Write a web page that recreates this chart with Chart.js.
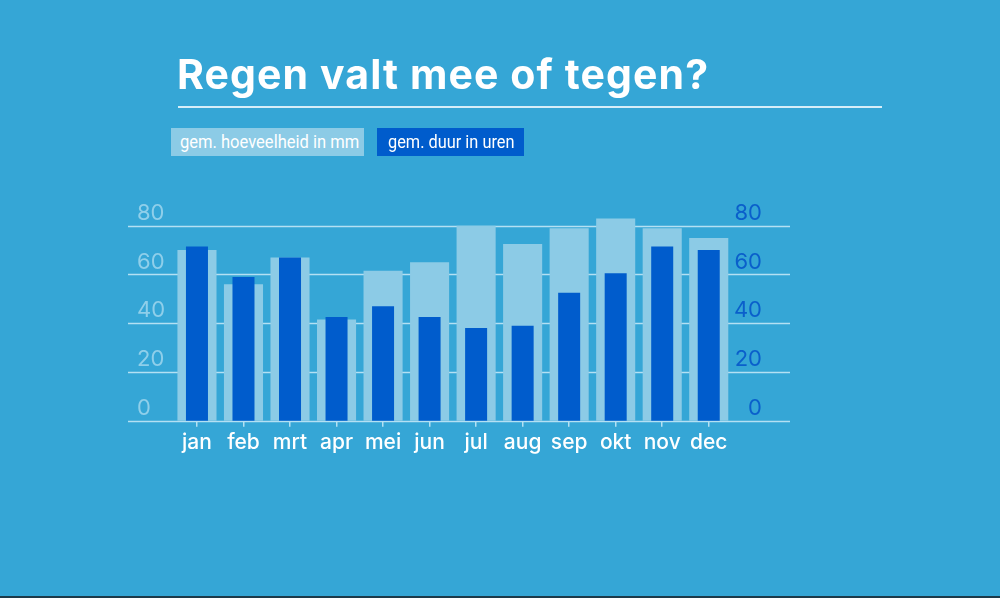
<!DOCTYPE html>
<html>
<head>
<meta charset="utf-8">
<script src="https://cdn.jsdelivr.net/npm/chart.js@4"></script>
<style>
    body { margin: 0; background: #35a6d6; }
    #wrap { position: relative; width: 1000px; height: 598px; background: #35a6d6; overflow: hidden; }
    #wrap canvas { position: absolute; left: 0; top: 0; }
    h1 {
        position: absolute; left: 177px; top: 49px; margin: 0;
        font-family: Inter, sans-serif; font-weight: 700; font-size: 41px;
        color: #fff; letter-spacing: 1.1px; white-space: nowrap;
    }
    .rule { position: absolute; left: 178px; top: 106px; width: 704px; height: 1.5px; background: #d6eef9; }
    .key {
        position: absolute; top: 128px; height: 28px; line-height: 28px; white-space: nowrap;
        font-family: Roboto, sans-serif; font-size: 19px; color: #fff; box-sizing: border-box;
    }
    .key span { display: inline-block; transform-origin: left center; }
    #k1 { left: 171px; width: 193px; background: #8ccbe6; padding-left: 9px; }
    #k1 span { transform: scaleX(0.87); }
    #k2 { left: 377px; width: 147px; background: #005ccc; padding-left: 11px; }
    #k2 span { transform: scaleX(0.86); }
    .edge { position: absolute; left: 0; bottom: 0; width: 1000px; height: 2px; background: #1c3a4a; }
</style>
</head>
<body>
<div id="wrap">
    <canvas id="rainChart" width="1000" height="598"></canvas>
    <h1>Regen valt mee of tegen?</h1>
    <div class="rule"></div>
    <div class="key" id="k1"><span>gem. hoeveelheid in mm</span></div>
    <div class="key" id="k2"><span>gem. duur in uren</span></div>
    <div class="edge"></div>
</div>
<script>
const months = ['jan', 'feb', 'mrt', 'apr', 'mei', 'jun', 'jul', 'aug', 'sep', 'okt', 'nov', 'dec'];
const rainMm = [70, 56, 67, 41.5, 61.5, 65, 80, 72.5, 79, 83, 79, 75];
const rainHours = [71.5, 59, 67, 42.5, 47, 42.5, 38, 39, 52.5, 60.5, 71.5, 70];
const axisTicks = [0, 20, 40, 60, 80];

const lightBlue = '#8ccbe6';
const darkBlue = '#005ccc';
const lineColor = '#b4e0f3';

// horizontal lines run wider than the bars, so draw them from the y scale
const wideGrid = {
    id: 'wideGrid',
    beforeDatasetsDraw(chart) {
        const ctx = chart.ctx;
        const y = chart.scales.yMm;
        ctx.save();
        ctx.strokeStyle = lineColor;
        ctx.lineWidth = 1.5;
        y.ticks.forEach(t => {
            const py = Math.round(y.getPixelForValue(t.value)) + 0.5;
            ctx.beginPath();
            ctx.moveTo(128, py);
            ctx.lineTo(790, py);
            ctx.stroke();
        });
        ctx.restore();
    }
};

const ctx = document.getElementById('rainChart').getContext('2d');
new Chart(ctx, {
    type: 'bar',
    data: {
        labels: months,
        datasets: [{
            label: 'gem. duur in uren',
            data: rainHours,
            yAxisID: 'yUur',
            backgroundColor: darkBlue,
            barPercentage: 0.473,
            categoryPercentage: 1,
            grouped: false,
            order: 0,
            clip: false
        }, {
            label: 'gem. hoeveelheid in mm',
            data: rainMm,
            yAxisID: 'yMm',
            backgroundColor: lightBlue,
            barPercentage: 0.84,
            categoryPercentage: 1,
            grouped: false,
            order: 1,
            clip: false
        }]
    },
    options: {
        responsive: false,
        animation: false,
        layout: { padding: { left: 137, right: 238, top: 225.7, bottom: 137.3 } },
        scales: {
            x: {
                grid: { drawOnChartArea: false, offset: false, color: lineColor, lineWidth: 1.5, tickLength: 6 },
                border: { display: false },
                ticks: { color: '#ffffff', padding: 3, font: { family: 'Inter', size: 21, weight: '500' } },
                afterFit: function(scale) { scale.height = 40; }
            },
            yMm: {
                position: 'left',
                min: 0, max: 80,
                afterBuildTicks: function(scale) { scale.ticks = axisTicks.map(v => ({ value: v })); },
                grid: { display: false },
                border: { display: false },
                ticks: { color: '#8fcfea', crossAlign: 'far', labelOffset: -12.5, padding: 0, font: { family: 'Inter', size: 22 } },
                afterFit: function(scale) { scale.width = 36.7; }
            },
            yUur: {
                position: 'right',
                min: 0, max: 80,
                afterBuildTicks: function(scale) { scale.ticks = axisTicks.map(v => ({ value: v })); },
                grid: { display: false },
                border: { display: false },
                ticks: { color: '#0a5fcb', crossAlign: 'far', labelOffset: -12.5, padding: 0, font: { family: 'Inter', size: 22 } },
                afterFit: function(scale) { scale.width = 30; }
            }
        },
        plugins: {
            legend: { display: false },
            tooltip: { enabled: false }
        }
    },
    plugins: [wideGrid]
});
</script>
</body>
</html>
